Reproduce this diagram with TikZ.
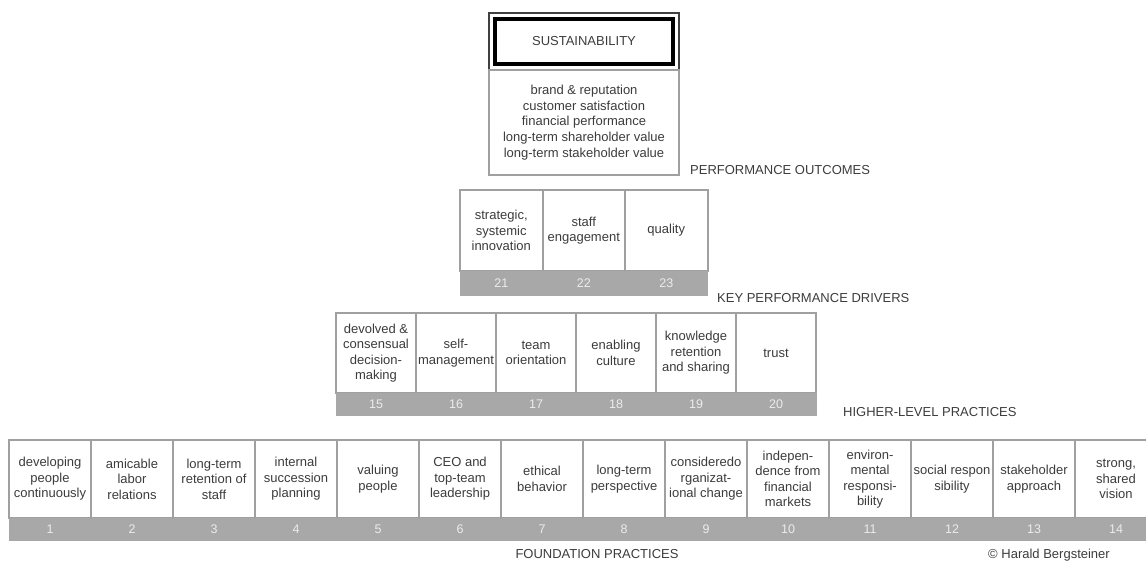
\documentclass[tikz,border=0pt]{standalone}
\usepackage{fontspec}
\setmainfont{Liberation Sans}
\definecolor{txt}{HTML}{3C3C3C}
\definecolor{bordergray}{HTML}{A0A0A0}
\definecolor{bandgray}{HTML}{A8A8A8}
\definecolor{numcol}{HTML}{ECECEC}
\tikzset{
  basefont/.style={font=\fontsize{13}{15.5}\selectfont, text=txt},
  cell/.style={basefont, draw=bordergray, line width=2pt, fill=white, inner sep=0pt, align=center},
  band/.style={draw=bandgray, fill=bandgray, line width=1pt, inner sep=0pt, text=numcol, font=\fontsize{12.5}{14}\selectfont},
  levellabel/.style={basefont, anchor=base west, inner sep=0pt},
}
\begin{document}
\begin{tikzpicture}[x=1pt,y=-1pt]
\useasboundingbox (0,0) rectangle (1146,562);
\clip (0,0) rectangle (1146,562);

% top: sustainability
\node[draw=black!75, line width=1.2pt, minimum width=190pt, minimum height=57pt, inner sep=0pt] (topframe) at (584,41.5) {};
\node[basefont, draw=black, line width=4.5pt, minimum width=178pt, minimum height=45pt, inner sep=0pt] (sust) at (584,41.5) {SUSTAINABILITY};
\node[cell, minimum width=190pt, minimum height=105pt, font=\fontsize{13}{15.7}\selectfont] (po) at (584,122.5)
  {brand \& reputation\\customer satisfaction\\financial performance\\long-term shareholder value\\long-term stakeholder value};
\node[levellabel] (lpo) at (690,174.7) {PERFORMANCE OUTCOMES};

% key performance drivers
\foreach \i/\t in {1/{strategic,\\systemic\\innovation},2/{staff\\engagement},3/{quality}}{
  \node[cell, minimum width=82.5pt, minimum height=81pt] (k\i) at ({501.25+82.5*(\i-1)},230.5) {\t};
  \pgfmathtruncatemacro{\num}{20+\i}
  \node[band, minimum width=82.5pt, minimum height=24pt] (kn\i) at ({501.25+82.5*(\i-1)},283) {\num};
}
\node[levellabel] (lkpd) at (717,302.6) {KEY PERFORMANCE DRIVERS};

% higher-level practices
\foreach \i/\t in {1/{devolved \&\\consensual\\decision-\\making},2/{self-\\management},3/{team\\orientation},4/{enabling\\culture},5/{knowledge\\retention\\and sharing},6/{trust}}{
  \node[cell, minimum width=80pt, minimum height=80pt] (h\i) at ({376+80*(\i-1)},353) {\t};
  \pgfmathtruncatemacro{\num}{14+\i}
  \node[band, minimum width=80pt, minimum height=22pt] (hn\i) at ({376+80*(\i-1)},404) {\num};
}
\node[levellabel] (lhlp) at (843,416) {HIGHER-LEVEL PRACTICES};

% foundation practices
\foreach \i/\t in {1/{developing\\people\\continuously},2/{amicable\\labor\\relations},3/{long-term\\retention of\\staff},4/{internal\\succession\\planning},5/{valuing\\people},6/{CEO and\\top-team\\leadership},7/{ethical\\behavior},8/{long-term\\perspective},9/{consideredo\\rganizat-\\ional change},10/{indepen-\\dence from\\financial\\markets},11/{environ-\\mental\\responsi-\\bility},12/{social respon\\sibility},13/{stakeholder\\approach},14/{strong,\\shared\\vision}}{
  \node[cell, minimum width=82pt, minimum height=78pt] (f\i) at ({50+82*(\i-1)},479) {\t};
  \node[band, minimum width=82pt, minimum height=22pt] (fn\i) at ({50+82*(\i-1)},529) {\i};
}
\node[basefont, anchor=base, inner sep=0pt] (lfp) at (597,558.5) {FOUNDATION PRACTICES};
\node[basefont, anchor=base, inner sep=0pt] (copy) at (1049,558.5) {© Harald Bergsteiner};
\end{tikzpicture}
\end{document}
